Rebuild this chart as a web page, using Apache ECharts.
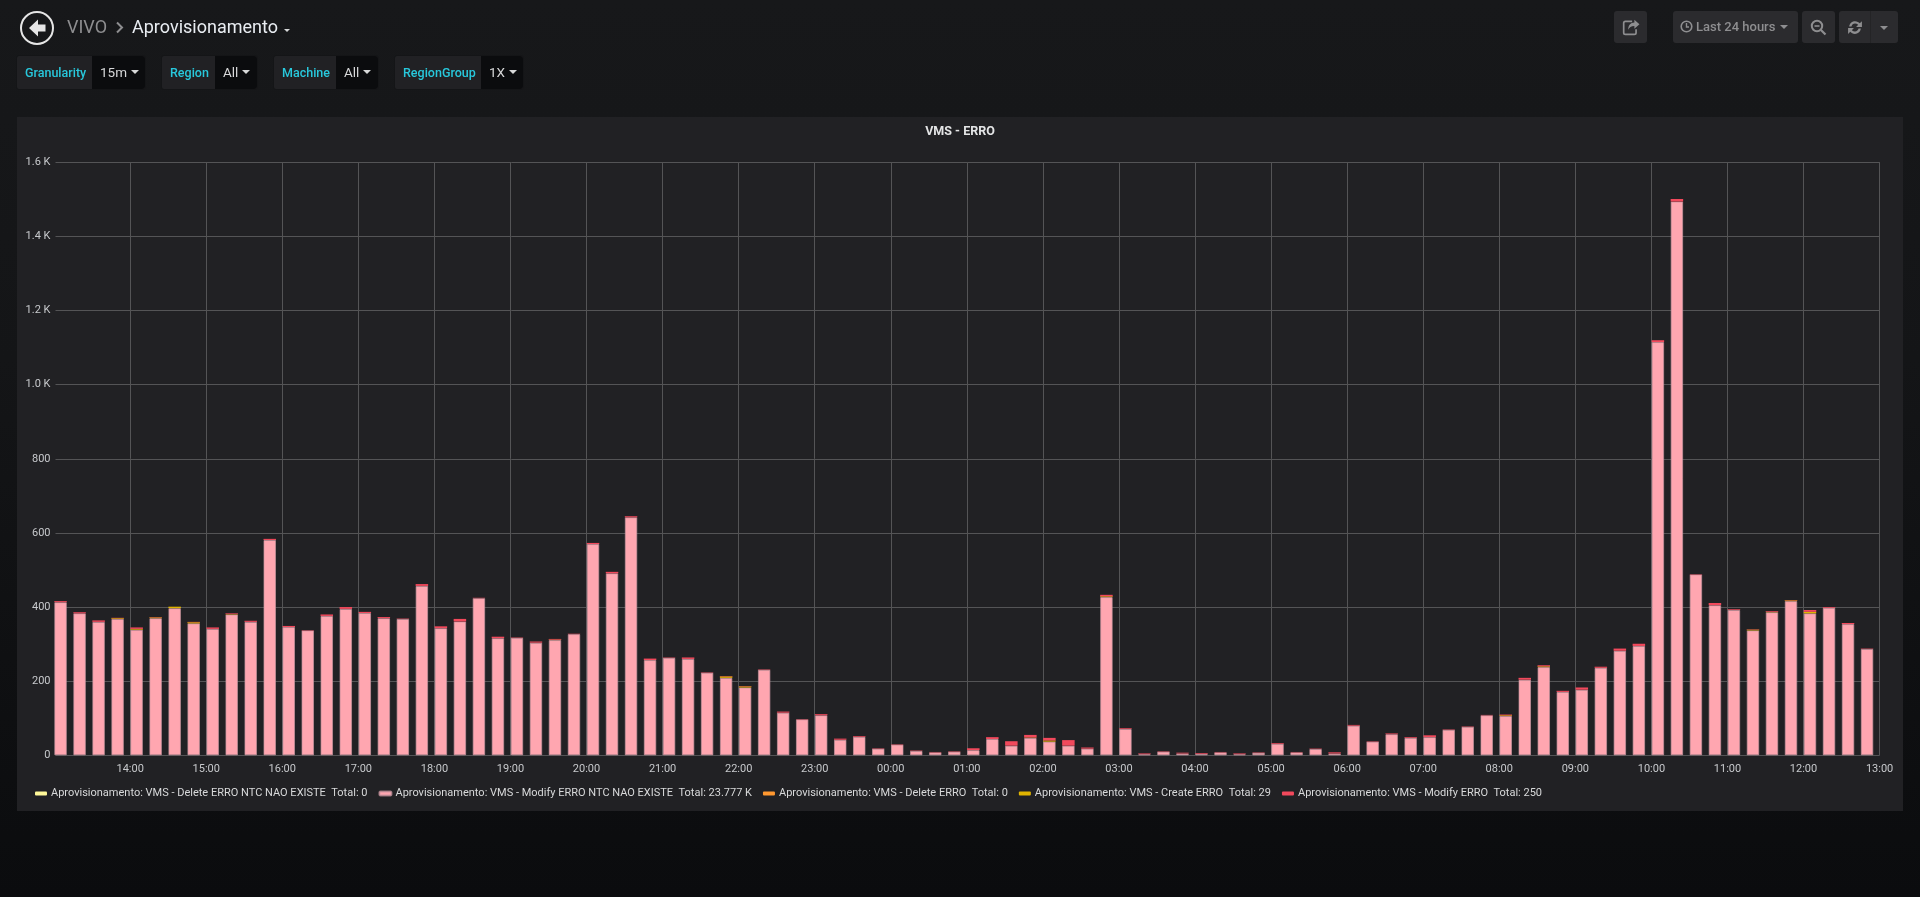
<!DOCTYPE html>
<html>
<head>
<meta charset="utf-8">
<title>VMS - ERRO</title>
<script src="https://cdn.jsdelivr.net/npm/echarts@6/dist/echarts.min.js"></script>
<style>
html,body{margin:0;padding:0;width:1920px;height:897px;overflow:hidden;background:linear-gradient(180deg,#17181a 0%,#141517 40%,#0b0c0e 100%);font-family:Roboto,"Open Sans",sans-serif;}
.abs{position:absolute;box-sizing:border-box;}
#panel{left:17px;top:117px;width:1886px;height:694px;background:#212124;}
#chart{left:0;top:0;width:1920px;height:897px;}
.crumb{top:16px;font-size:18px;line-height:22px;white-space:nowrap;}
.var{top:55px;height:35px;border-radius:3px;background:#212124;border:1px solid #141517;font-size:12.5px;font-weight:500;color:#28c8dc;line-height:33px;}
.var .lab{position:absolute;left:7px;top:0;}
.var .val{position:absolute;box-sizing:border-box;top:0;bottom:0;right:0;background:#0b0c0e;color:#d8d9da;font-size:13.5px;font-weight:400;border-radius:0 3px 3px 0;padding-left:8px;white-space:nowrap;}
.caret{display:inline-block;width:0;height:0;border-left:4px solid transparent;border-right:4px solid transparent;border-top:4px solid currentColor;vertical-align:middle;margin-left:4px;margin-top:-2px;}
.btn{top:11px;height:32px;background:#2b2b2e;border-radius:3px;color:#8e8e90;font-size:13px;font-weight:500;line-height:32px;white-space:nowrap;}
.btn svg{position:absolute;}
</style>
</head>
<body>
<div id="panel" class="abs"></div>
<div id="chart" class="abs"></div>

<svg class="abs" style="left:19px;top:10px" width="36" height="36" viewBox="0 0 36 36">
  <circle cx="18" cy="18" r="16" fill="none" stroke="#e6e6e6" stroke-width="2"/>
  <path d="M19 9.5 L10 18 L19 26.5 L19 21.5 L26.5 21.5 L26.5 14.5 L19 14.5 Z" fill="#e6e6e6"/>
</svg>
<div class="abs crumb" style="left:67px;color:#8e8e90">VIVO</div>
<svg class="abs" style="left:115px;top:21px" width="9" height="13" viewBox="0 0 9 13"><path d="M2 1.5 L7 6.5 L2 11.5" fill="none" stroke="#8e8e90" stroke-width="2"/></svg>
<div class="abs crumb" style="left:132px;color:#e9edf2">Aprovisionamento</div>
<div class="abs" style="left:284px;top:29px;width:0;height:0;border-left:3.5px solid transparent;border-right:3.5px solid transparent;border-top:3.5px solid #d8d9da"></div>

<div class="abs var" style="left:16px;width:130px"><span class="lab" style="left:8px">Granularity</span><span class="val" style="width:53px">15m<i class="caret"></i></span></div>
<div class="abs var" style="left:161px;width:97px"><span class="lab" style="left:8px">Region</span><span class="val" style="width:42px">All<i class="caret"></i></span></div>
<div class="abs var" style="left:273px;width:106px"><span class="lab" style="left:8px">Machine</span><span class="val" style="width:42px">All<i class="caret"></i></span></div>
<div class="abs var" style="left:394px;width:130px"><span class="lab" style="left:8px">RegionGroup</span><span class="val" style="width:42px">1X<i class="caret"></i></span></div>

<div class="abs btn" style="left:1614px;width:33px">
  <svg style="left:8px;top:7px" width="18" height="18" viewBox="0 0 16 16"><path d="M11 1.5 L15.5 5.5 L11 9.5 L11 7 C8 7 6.5 8 5.5 10.5 C5.5 6.5 7.5 4 11 4 Z" fill="#8e8e90"/><path d="M9 3 L3 3 Q1.5 3 1.5 4.5 L1.5 13 Q1.5 14.5 3 14.5 L11 14.5 Q12.5 14.5 12.5 13 L12.5 10" fill="none" stroke="#8e8e90" stroke-width="1.5"/></svg>
</div>
<div class="abs btn" style="left:1673px;width:125px">
  <svg style="left:7px;top:9px" width="13" height="13" viewBox="0 0 13 13"><circle cx="6.5" cy="6.5" r="5.3" fill="none" stroke="#8e8e90" stroke-width="1.6"/><path d="M6.5 3 L6.5 7 L9 7" fill="none" stroke="#8e8e90" stroke-width="1.4"/></svg>
  <span style="position:absolute;left:23px;top:0">Last 24 hours</span>
  <i class="caret" style="position:absolute;left:107px;top:14px;margin:0"></i>
</div>
<div class="abs btn" style="left:1802px;width:33px">
  <svg style="left:8px;top:8px" width="17" height="17" viewBox="0 0 17 17"><circle cx="7" cy="7" r="5.2" fill="none" stroke="#8e8e90" stroke-width="2"/><path d="M4.5 7 L9.5 7" stroke="#8e8e90" stroke-width="1.6"/><path d="M11 11 L15.5 15.5" stroke="#8e8e90" stroke-width="2.2"/></svg>
</div>
<div class="abs btn" style="left:1839px;width:59px">
  <svg style="left:8px;top:8px" width="16" height="17" viewBox="0 0 15 16"><path d="M2 7 C2.5 3.5 5 2 7.5 2 C9.5 2 11 3 12 4 L14 2 L14 7.5 L8.5 7.5 L10.5 5.5 C9.5 4.7 8.6 4.3 7.5 4.3 C5.8 4.3 4.6 5.3 4.2 7 Z M13 9 C12.5 12.5 10 14 7.5 14 C5.5 14 4 13 3 12 L1 14 L1 8.5 L6.5 8.5 L4.5 10.5 C5.5 11.3 6.4 11.7 7.5 11.7 C9.2 11.7 10.4 10.7 10.8 9 Z" fill="#8e8e90"/></svg>
  <div style="position:absolute;left:31px;top:0;bottom:0;width:1px;background:#242426"></div>
  <i class="caret" style="position:absolute;left:41px;top:15px;margin:0"></i>
</div>

<script>
const panelTitle = "VMS - ERRO";
const barStarts = [
  "13:00","13:15","13:30","13:45","14:00","14:15","14:30","14:45","15:00","15:15","15:30","15:45",
  "16:00","16:15","16:30","16:45","17:00","17:15","17:30","17:45","18:00","18:15","18:30","18:45",
  "19:00","19:15","19:30","19:45","20:00","20:15","20:30","20:45","21:00","21:15","21:30","21:45",
  "22:00","22:15","22:30","22:45","23:00","23:15","23:30","23:45","00:00","00:15","00:30","00:45",
  "01:00","01:15","01:30","01:45","02:00","02:15","02:30","02:45","03:00","03:15","03:30","03:45",
  "04:00","04:15","04:30","04:45","05:00","05:15","05:30","05:45","06:00","06:15","06:30","06:45",
  "07:00","07:15","07:30","07:45","08:00","08:15","08:30","08:45","09:00","09:15","09:30","09:45",
  "10:00","10:15","10:30","10:45","11:00","11:15","11:30","11:45","12:00","12:15","12:30","12:45"];
const xTickLabels = ["14:00","15:00","16:00","17:00","18:00","19:00","20:00","21:00","22:00","23:00","00:00","01:00",
  "02:00","03:00","04:00","05:00","06:00","07:00","08:00","09:00","10:00","11:00","12:00","13:00"];
const yTickLabels = ["0","200","400","600","800","1.0 K","1.2 K","1.4 K","1.6 K"];

const deleteNtcValues = [
  0,0,0,0,0,0,0,0,0,0,0,0,0,0,0,0,0,0,0,0,0,0,0,0,
  0,0,0,0,0,0,0,0,0,0,0,0,0,0,0,0,0,0,0,0,0,0,0,0,
  0,0,0,0,0,0,0,0,0,0,0,0,0,0,0,0,0,0,0,0,0,0,0,0,
  0,0,0,0,0,0,0,0,0,0,0,0,0,0,0,0,0,0,0,0,0,0,0,0];
const modifyNtcValues = [
  413,383,360,368,339,370,397,356,341,380,360,581,346,337,376,395,384,370,368,457,343,361,424,316,
  317,304,311,327,570,491,642,257,263,260,223,209,183,231,115,97,108,42,50,18,29,12,8,10,
  14,44,26,47,37,26,18,427,71,3,10,5,4,8,3,7,31,8,17,5,80,37,57,47,
  49,69,77,108,106,204,238,171,177,236,282,295,1115,1494,488,405,392,337,386,416,383,398,354,287];
const deleteValues = [
  0,0,0,0,0,0,0,0,0,0,0,0,0,0,0,0,0,0,0,0,0,0,0,0,
  0,0,0,0,0,0,0,0,0,0,0,0,0,0,0,0,0,0,0,0,0,0,0,0,
  0,0,0,0,0,0,0,0,0,0,0,0,0,0,0,0,0,0,0,0,0,0,0,0,
  0,0,0,0,0,0,0,0,0,0,0,0,0,0,0,0,0,0,0,0,0,0,0,0];
const createValues = [
  0,0,0,2,2,2,4,3,0,1,0,0,0,0,0,0,0,0,0,0,0,0,0,0,
  0,0,1,0,0,0,0,0,0,0,0,4,3,0,0,0,0,0,0,0,0,0,0,0,
  0,0,0,1,3,0,0,2,0,0,0,0,0,0,0,0,0,0,0,0,0,0,0,0,
  0,0,0,0,2,0,2,0,0,0,0,0,0,0,0,0,0,2,1,2,4,0,0,0];
const modifyValues = [
  3,3,4,1,4,1,0,1,4,2,3,3,3,1,4,5,3,3,1,5,5,7,1,4,
  1,3,2,1,3,4,3,4,1,4,1,1,1,1,3,1,3,3,2,1,1,1,1,1,
  5,5,12,7,7,15,3,4,2,2,1,2,2,1,2,1,2,1,1,3,2,1,2,2,
  5,1,1,1,2,5,3,3,6,3,6,6,5,7,1,6,2,1,2,1,5,2,3,1];

const seriesNames = [
  "Aprovisionamento: VMS - Delete ERRO NTC NAO EXISTE",
  "Aprovisionamento: VMS - Modify ERRO NTC NAO EXISTE",
  "Aprovisionamento: VMS - Delete ERRO",
  "Aprovisionamento: VMS - Create ERRO",
  "Aprovisionamento: VMS - Modify ERRO"];
const seriesTotals = ["0","23.777 K","0","29","250"];
const seriesColors = ["#FFF899","#FFA6B0","#FF9830","#E0B400","#F2495C"];
const seriesValues = [deleteNtcValues, modifyNtcValues, deleteValues, createValues, modifyValues];

// x axis: a time axis running 13:00 to 13:00 the next day, in UTC
const MINUTE = 60000, HOUR = 60 * MINUTE;
const dayStart = Date.UTC(2020,0,1,13,0);
function timeOf(label){
  const h = +label.slice(0,2), m = +label.slice(3);
  return dayStart + ((h - 13 + 24) % 24) * HOUR + m * MINUTE;
}
const BAR_CENTER_SHIFT = 5.1 * MINUTE; // bars start at their timestamp rather than centring on it
function hourLabel(v){
  const d = new Date(Math.round(v / MINUTE) * MINUTE);
  const s = String(d.getUTCHours()).padStart(2,'0') + ':' + String(d.getUTCMinutes()).padStart(2,'0');
  return xTickLabels.includes(s) ? s : '';
}
// A time axis widens its extent by half a bar on each side; these limits land on the wanted extent afterwards.
const GRID_WIDTH = 1824.1, BAR_WIDTH = 12.5;
const wantedMin = dayStart + 1.1 * MINUTE, wantedMax = dayStart + 24 * HOUR;
const widening = (wantedMax - wantedMin) * BAR_WIDTH / GRID_WIDTH / 2;

const chart = echarts.init(document.getElementById('chart'), null, {renderer:'canvas'});
chart.setOption({
  animation:false,
  useUTC:true,
  backgroundColor:'transparent',
  textStyle:{fontFamily:'Roboto'},
  title:{text:panelTitle,left:'center',top:120,textStyle:{color:'#e4e5e6',fontSize:12.5,fontWeight:'bold',fontFamily:'Roboto'}},
  grid:{left:55.5,right:40.4,top:162.3,height:593,containLabel:false},
  legend:{
    left:35,top:788,itemWidth:12,itemHeight:4,itemGap:11,icon:'roundRect',
    selectedMode:false,padding:0,
    formatter:name=>name+'  Total: '+seriesTotals[seriesNames.indexOf(name)],
    textStyle:{color:'#d8d9da',fontSize:11,fontFamily:'Roboto',padding:[0,0,0,-1]}
  },
  xAxis:{
    type:'time',min:wantedMin+widening,max:wantedMax-widening,
    splitNumber:24,minInterval:HOUR,maxInterval:HOUR,
    axisLine:{show:false},
    axisTick:{show:false},
    axisLabel:{
      color:'#c7c9cc',fontSize:11,margin:8,fontFamily:'Roboto',
      showMinLabel:false,showMaxLabel:true,hideOverlap:false,
      formatter:v=>hourLabel(v)
    },
    splitLine:{show:true,showMinLine:false,lineStyle:{color:'#545456',width:1}}
  },
  yAxis:{
    type:'value',min:0,max:1600,interval:200,
    axisLine:{show:false},axisTick:{show:false},
    axisLabel:{color:'#c7c9cc',fontSize:11,margin:5,fontFamily:'Roboto',
      formatter:v=>yTickLabels[v/200]},
    splitLine:{show:true,lineStyle:{color:'#545456',width:1}}
  },
  series:seriesNames.map((name,i)=>({
    name,type:'bar',stack:'total',barWidth:BAR_WIDTH,clip:true,
    itemStyle:{color:seriesColors[i],
      borderColor:i===1?'rgba(200,150,160,0.7)':'transparent',borderWidth:i===1?1:0},
    emphasis:{disabled:true},
    data:barStarts.map((t,k)=>[timeOf(t)+BAR_CENTER_SHIFT, seriesValues[i][k]])
  }))
});
</script>
</body>
</html>
